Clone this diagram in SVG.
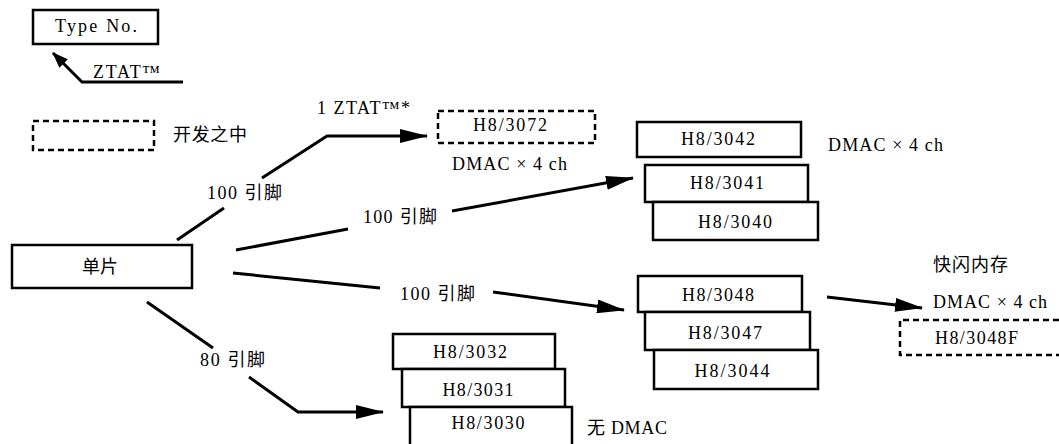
<svg xmlns="http://www.w3.org/2000/svg" width="1059" height="444" viewBox="0 0 1059 444">
<style>
  .box{fill:#fff;stroke:#000;stroke-width:2.5}
  .dash{fill:none;stroke:#000;stroke-width:2.5;stroke-dasharray:6 4}
  .ln{fill:none;stroke:#000;stroke-width:3;stroke-linecap:butt;stroke-linejoin:miter}
  .m{text-anchor:middle}
  text{font-family:"Liberation Serif","DejaVu Serif","Times New Roman","Noto Sans CJK SC",serif;font-size:18px;fill:#000}
</style>
<defs>
  <marker id="ah" viewBox="0 0 28 14" refX="27" refY="7" markerWidth="28" markerHeight="14" markerUnits="userSpaceOnUse" orient="auto">
    <path d="M0,0 L28,7 L0,14 Z" fill="#000"/>
  </marker>
  <marker id="ahs" viewBox="0 0 16 12" refX="15" refY="6" markerWidth="16" markerHeight="12" markerUnits="userSpaceOnUse" orient="auto">
    <path d="M0,0 L16,6 L0,12 Z" fill="#000"/>
  </marker>
</defs>
<rect width="1059" height="444" fill="#fff"/>

<g id="legend-type">
  <rect class="box" x="33" y="10" width="125" height="34"/>
  <text class="m" x="96" y="32" textLength="82" lengthAdjust="spacing">Type No.</text>
</g>
<g id="legend-ztat">
  <text x="93" y="78" textLength="67" lengthAdjust="spacing">ZTAT™</text>
</g>
<g id="legend-dev">
  <rect class="dash" x="33" y="121" width="121" height="29"/>
  <text x="173" y="141" textLength="74" lengthAdjust="spacing">开发之中</text>
</g>

<g id="node-single">
  <rect class="box" x="12" y="245" width="180" height="43"/>
  <text class="m" x="100" y="273">单片</text>
</g>

<g id="node-3072">
  <rect class="dash" x="438" y="111" width="157" height="32"/>
  <text class="m" x="510" y="131" textLength="74" lengthAdjust="spacing">H8/3072</text>
  <text x="452" y="170" textLength="115" lengthAdjust="spacing">DMAC × 4 ch</text>
</g>

<g id="node-304x">
  <rect class="box" x="637" y="122" width="164" height="35"/>
  <text class="m" x="718" y="145" textLength="74" lengthAdjust="spacing">H8/3042</text>
  <rect class="box" x="645" y="165" width="163" height="37"/>
  <text class="m" x="727" y="189" textLength="74" lengthAdjust="spacing">H8/3041</text>
  <rect class="box" x="653" y="202" width="165" height="38"/>
  <text class="m" x="735" y="228" textLength="74" lengthAdjust="spacing">H8/3040</text>
  <text x="828" y="151" textLength="115" lengthAdjust="spacing">DMAC × 4 ch</text>
</g>

<g id="node-3048">
  <rect class="box" x="638" y="276" width="164" height="36"/>
  <text class="m" x="718" y="301" textLength="72" lengthAdjust="spacing">H8/3048</text>
  <rect class="box" x="645" y="312" width="165" height="38"/>
  <text class="m" x="725" y="339" textLength="74" lengthAdjust="spacing">H8/3047</text>
  <rect class="box" x="654" y="350" width="164" height="39"/>
  <text class="m" x="732" y="377" textLength="75" lengthAdjust="spacing">H8/3044</text>
</g>

<g id="node-3048F">
  <text x="933" y="271" textLength="75" lengthAdjust="spacing">快闪内存</text>
  <text x="933" y="308" textLength="114" lengthAdjust="spacing">DMAC × 4 ch</text>
  <path class="dash" d="M1059,320 H900 V355 H1059"/>
  <text x="935" y="344" textLength="83" lengthAdjust="spacing">H8/3048F</text>
</g>

<g id="node-303x">
  <rect class="box" x="393" y="334" width="162" height="35"/>
  <text class="m" x="470" y="358" textLength="74" lengthAdjust="spacing">H8/3032</text>
  <rect class="box" x="402" y="369" width="163" height="38"/>
  <text class="m" x="478" y="396" textLength="71" lengthAdjust="spacing">H8/3031</text>
  <rect class="box" x="410" y="407" width="162" height="45"/>
  <text class="m" x="488" y="429" textLength="73" lengthAdjust="spacing">H8/3030</text>
  <text x="587" y="434" textLength="80" lengthAdjust="spacing">无 DMAC</text>
</g>

<g id="connectors">
  <polyline class="ln" points="183,82 82,82 53,53" marker-end="url(#ahs)"/>

  <line class="ln" x1="177" y1="240" x2="224" y2="208"/>
  <text x="207" y="199" textLength="75" lengthAdjust="spacing">100 引脚</text>
  <polyline class="ln" points="262,178 327,136 427,136" marker-end="url(#ah)"/>
  <text x="317" y="114" textLength="93" lengthAdjust="spacing">1 ZTAT™*</text>

  <line class="ln" x1="236" y1="250" x2="348" y2="229"/>
  <text x="363" y="223" textLength="74" lengthAdjust="spacing">100 引脚</text>
  <line class="ln" x1="452" y1="211" x2="633" y2="178" marker-end="url(#ah)"/>

  <line class="ln" x1="233" y1="273" x2="380" y2="288"/>
  <text x="400" y="300" textLength="75" lengthAdjust="spacing">100 引脚</text>
  <line class="ln" x1="493" y1="292" x2="624" y2="310" marker-end="url(#ah)"/>

  <line class="ln" x1="147" y1="302" x2="213" y2="348"/>
  <text x="200" y="366" textLength="65" lengthAdjust="spacing">80 引脚</text>
  <polyline class="ln" points="249,377 298,412 383,412" marker-end="url(#ah)"/>

  <line class="ln" x1="827" y1="297" x2="922" y2="308" marker-end="url(#ah)"/>
</g>
</svg>
